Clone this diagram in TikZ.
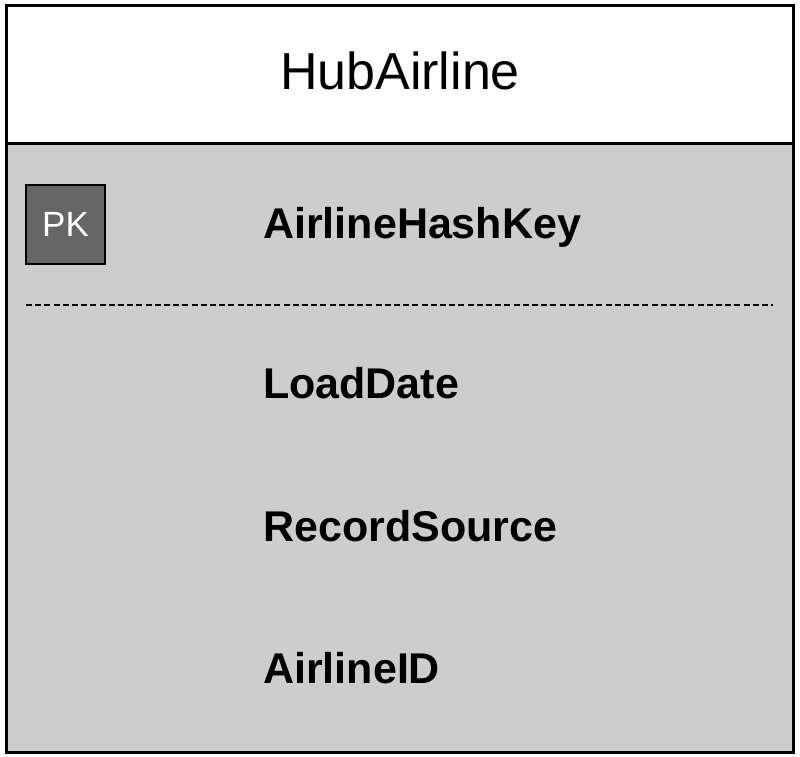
\documentclass[tikz,border=0pt]{standalone}
\usepackage{fontspec}
\setmainfont{Liberation Sans}
\definecolor{bodygray}{HTML}{CDCDCD}
\definecolor{pkgray}{HTML}{666666}
\tikzset{
  field/.style={anchor=base west, inner sep=0pt, font=\fontsize{43}{46}\selectfont\bfseries},
  title/.style={anchor=base, inner sep=0pt, font=\fontsize{52}{56}\selectfont},
  pkbox/.style={draw=black, line width=2.5pt, fill=pkgray, minimum width=79pt, minimum height=79pt, inner sep=0pt, text=white, font=\fontsize{35}{38}\selectfont},
  frame/.style={draw=black, line width=3pt},
}
\begin{document}
\begin{tikzpicture}[x=1pt,y=-1pt]
\useasboundingbox (0,0) rectangle (800,757);
\fill[white] (0,0) rectangle (800,757);
\fill[bodygray] (6,143) rectangle (793,752);
\draw[frame] (6,6) rectangle (793,752);
\draw[frame] (6,143) -- (793,143);
\node[title] (t) at (400,90) {HubAirline};
\node[pkbox] (pk) at (65.5,224.5) {PK};
\coordinate (dl) at (26,305);
\coordinate (dr) at (773,305);
\draw[line width=2pt, dash pattern=on 6pt off 3.2pt] (dl) -- (dr);
\node[field] (f1) at (263,238) {AirlineHashKey};
\node[field] (f2) at (263,398) {LoadDate};
\node[field] (f3) at (263,541) {RecordSource};
\node[field] (f4) at (263,683) {AirlineID};
\end{tikzpicture}
\end{document}
